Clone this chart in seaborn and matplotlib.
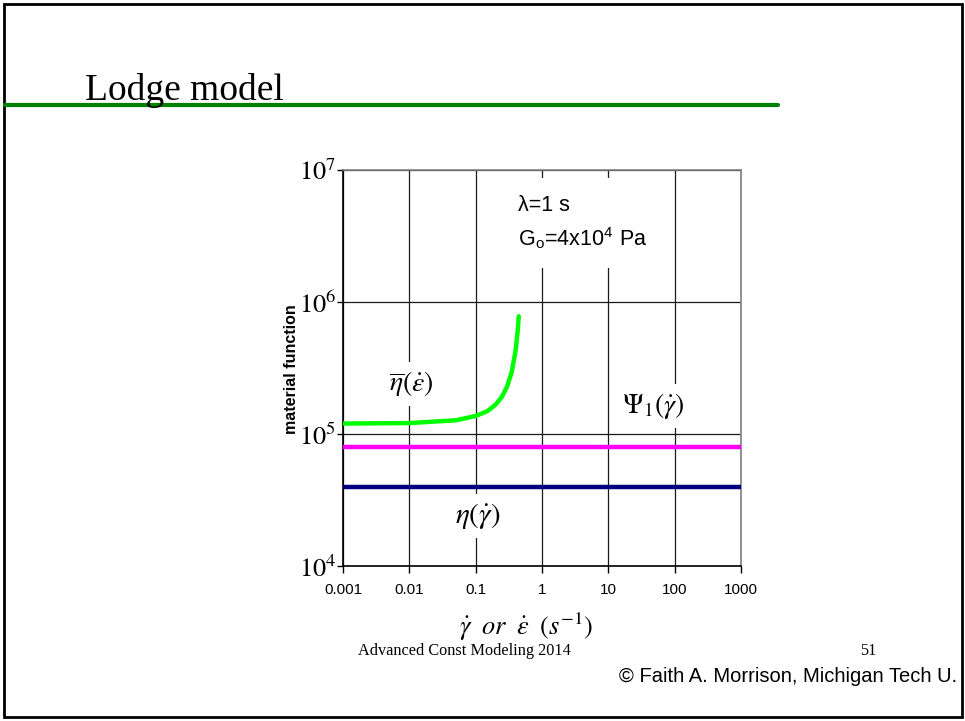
import matplotlib
matplotlib.use("Agg")
import matplotlib.pyplot as plt
from matplotlib.patches import Rectangle
from matplotlib.lines import Line2D
import seaborn as sns
import pandas as pd

# ---- data ----
shear_rate = [0.001, 1000]
eta_shear = [4e4, 4e4]          # eta(gamma_dot)
psi1 = [8e4, 8e4]               # Psi1(gamma_dot)
ext_rate = [0.001, 0.01, 0.05, 0.1, 0.15, 0.2, 0.25, 0.3, 0.35, 0.4, 0.43, 0.446]
eta_bar = [1.20e5, 1.21e5, 1.27e5, 1.37e5, 1.49e5, 1.67e5, 1.92e5, 2.31e5,
           2.96e5, 4.29e5, 6.0e5, 7.8e5]
x_ticks = [0.001, 0.01, 0.1, 1, 10, 100, 1000]
x_ticklabels = ["0.001", "0.01", "0.1", "1", "10", "100", "1000"]
y_ticks = [1e4, 1e5, 1e6, 1e7]
y_ticklabels = [r"$10^{4}$", r"$10^{5}$", r"$10^{6}$", r"$10^{7}$"]

sns.set_theme(style="white")
plt.rcParams["font.family"] = ["Liberation Sans", "DejaVu Sans"]
plt.rcParams["mathtext.fontset"] = "stix"
plt.rcParams["text.color"] = "black"
plt.rcParams["xtick.color"] = "black"
plt.rcParams["ytick.color"] = "black"
plt.rcParams["axes.labelcolor"] = "black"

W, H = 965, 721
fig = plt.figure(figsize=(W / 100, H / 100), dpi=100)
fig.patch.set_facecolor("white")

def fx(px):
    return px / W

def fy(py):
    return 1 - py / H

ax = fig.add_axes([fx(343), fy(566), fx(741) - fx(343), fy(170) - fy(566)])
ax.set_facecolor("white")

df_eta = pd.DataFrame({"x": shear_rate, "y": eta_shear})
df_psi = pd.DataFrame({"x": shear_rate, "y": psi1})
df_ext = pd.DataFrame({"x": ext_rate, "y": eta_bar})

sns.lineplot(data=df_psi, x="x", y="y", ax=ax, color="#FF00FF", lw=3.2,
             estimator=None, sort=False, zorder=3)
sns.lineplot(data=df_eta, x="x", y="y", ax=ax, color="#000080", lw=3.2,
             estimator=None, sort=False, zorder=3)
sns.lineplot(data=df_ext, x="x", y="y", ax=ax, color="#00FF00", lw=3.2,
             estimator=None, sort=False, zorder=3)

ax.set_xscale("log")
ax.set_yscale("log")
ax.set_xlim(0.001, 1000)
ax.set_ylim(1e4, 1e7)
ax.set_xticks(x_ticks)
ax.set_xticklabels(x_ticklabels, fontsize=11, family="Liberation Sans")
ax.set_yticks(y_ticks)
ax.set_yticklabels(y_ticklabels, fontsize=19)
ax.minorticks_off()
ax.tick_params(axis="x", direction="out", length=5, width=1, color="black", pad=7,
               bottom=True)
ax.tick_params(axis="y", direction="out", length=4, width=1, color="black", pad=1,
               left=True)
ax.grid(True, which="major", color="#1a1a1a", lw=0.9)
for s in ["left", "bottom"]:
    ax.spines[s].set_color("black")
    ax.spines[s].set_linewidth(1.2)
for s in ["top", "right"]:
    ax.spines[s].set_color("#808080")
    ax.spines[s].set_linewidth(1.2)
ax.set_xlabel("")
ax.set_ylabel("")

# axis labels
fig.text(fx(526), fy(627), r"$\dot{\gamma}\;\ or\;\ \dot{\varepsilon}\;\ (s^{-1})$",
         fontsize=19, ha="center", va="center")
fig.text(fx(292), fy(369), "material function", rotation=90, fontsize=11.5,
         fontweight="bold", ha="center", va="center")

# annotations
box = dict(boxstyle="square,pad=0.25", fc="white", ec="none")
ax.text(0.44, 0.866, "\u03bb=1 s\nG$_\\mathregular{o}$=4x10$^\\mathregular{4}$ Pa",
        transform=ax.transAxes, fontsize=15.5, ha="left", va="center",
        linespacing=1.45, bbox=dict(boxstyle="square,pad=0.8", fc="white", ec="none"),
        zorder=5)
fig.text(fx(411), fy(384), r"$\overline{\eta}(\dot{\varepsilon})$", fontsize=20,
         ha="center", va="center", bbox=box)
fig.text(fx(653), fy(406), r"$\Psi_1(\dot{\gamma})$", fontsize=20,
         ha="center", va="center", bbox=box)
fig.text(fx(478), fy(516), r"$\eta(\dot{\gamma})$", fontsize=21,
         ha="center", va="center", bbox=box)

# slide title and decorations
fig.text(fx(85), fy(100), "Lodge model", fontsize=27, family="Liberation Serif",
         ha="left", va="baseline")
fig.add_artist(Line2D([fx(5), fx(778)], [fy(105), fy(105)], color="#008000", lw=3,
                      transform=fig.transFigure))
fig.text(fx(358), fy(651), "Advanced Const Modeling 2014", fontsize=11.7,
         family="Liberation Serif", ha="left", va="center")
fig.text(fx(868), fy(651), "51", fontsize=11.7, family="Liberation Serif",
         ha="center", va="center")
fig.text(fx(957), fy(677), "\u00a9 Faith A. Morrison, Michigan Tech U.", fontsize=14.5,
         family="Liberation Sans", ha="right", va="center")
fig.add_artist(Rectangle((fx(4), fy(717)), fx(962) - fx(4), fy(4) - fy(717), fill=False,
                         ec="black", lw=2, transform=fig.transFigure))

fig.savefig("out.png", dpi=100, facecolor="white")
